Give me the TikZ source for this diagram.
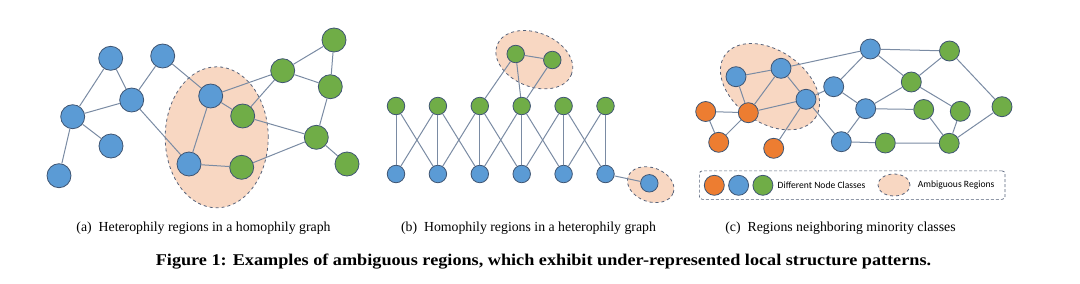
\documentclass[tikz,border=0pt]{standalone}
\usepackage{fontspec}
\setmainfont{Liberation Serif}
\newfontfamily\legendfont{Carlito}
\usepackage{xcolor}
\usetikzlibrary{shapes.geometric,positioning}

\definecolor{nodeblue}{HTML}{5B9BD5}
\definecolor{nodegreen}{HTML}{70AD47}
\definecolor{nodeorange}{HTML}{ED7D31}
\definecolor{nodeline}{HTML}{3F5573}
\definecolor{linkgray}{HTML}{7A8BA3}
\definecolor{regionfill}{HTML}{F8D7C2}
\definecolor{regionline}{HTML}{56627A}

\begin{document}
\begin{tikzpicture}[
    x=1pt, y=-1pt,
    vtx/.style={circle, draw=nodeline, line width=0.8pt, inner sep=0pt},
    bl/.style={vtx, fill=nodeblue},
    gr/.style={vtx, fill=nodegreen},
    og/.style={vtx, fill=nodeorange},
    region/.style={ellipse, draw=regionline, fill=regionfill, dashed, line width=0.8pt, inner sep=0pt},
    link/.style={draw=linkgray, line width=1pt},
    subcap/.style={font=\fontsize{13.8}{16}\selectfont},
    figcap/.style={font=\fontsize{16.4}{19}\selectfont\bfseries, xscale=1.11, transform shape}
]
\useasboundingbox (0,0) rectangle (1080,284);

% (a) heterophily regions in a homophily graph
\node[region, minimum width=103pt, minimum height=141pt] (regA) at (216.7,137.3) {};
\begin{scope}[vtx/.append style={minimum size=24pt}]
\node[bl] (a1) at (110.7,58.3) {};
\node[bl] (a2) at (162.7,56) {};
\node[bl] (a3) at (131.7,100) {};
\node[bl] (a4) at (72.7,116.7) {};
\node[bl] (a5) at (111,146) {};
\node[bl] (a6) at (59,175.7) {};
\node[bl] (a7) at (210.7,96) {};
\node[bl] (a8) at (189,164) {};
\node[gr] (ag1) at (242.7,116) {};
\node[gr] (ag2) at (241.7,167.3) {};
\node[gr] (ag3) at (282.7,70.7) {};
\node[gr] (ag4) at (334,40) {};
\node[gr] (ag5) at (330.3,86.7) {};
\node[gr] (ag6) at (316.3,137.3) {};
\node[gr] (ag7) at (347,164) {};
\end{scope}
\draw[link] (a1) -- (a4);
\draw[link] (a1) -- (a3);
\draw[link] (a2) -- (a3);
\draw[link] (a3) -- (a4);
\draw[link] (a4) -- (a5);
\draw[link] (a4) -- (a6);
\draw[link] (a2) -- (a7);
\draw[link] (a3) -- (a8);
\draw[link] (a7) -- (a8);
\draw[link] (a7) -- (ag1);
\draw[link] (a7) -- (ag3);
\draw[link] (ag1) -- (ag3);
\draw[link] (ag1) -- (ag6);
\draw[link] (ag3) -- (ag4);
\draw[link] (ag3) -- (ag5);
\draw[link] (ag4) -- (ag5);
\draw[link] (ag5) -- (ag6);
\draw[link] (ag6) -- (ag2);
\draw[link] (ag6) -- (ag7);
\draw[link] (a8) -- (ag2);

% (b) homophily regions in a heterophily graph
\node[region, minimum width=80pt, minimum height=54pt, rotate=-22] (regB1) at (534.3,59.7) {};
\node[region, minimum width=48pt, minimum height=34pt, rotate=-20] (regB2) at (650.7,184.7) {};
\begin{scope}[vtx/.append style={minimum size=17.5pt}]
\node[gr] (t1) at (396,106) {};
\node[gr] (t2) at (437.9,106) {};
\node[gr] (t3) at (479.8,106) {};
\node[gr] (t4) at (521.7,106) {};
\node[gr] (t5) at (563.6,106) {};
\node[gr] (t6) at (605.5,106) {};
\node[bl] (b1) at (396,174) {};
\node[bl] (b2) at (437.9,174) {};
\node[bl] (b3) at (479.8,174) {};
\node[bl] (b4) at (521.7,174) {};
\node[bl] (b5) at (563.6,174) {};
\node[bl] (b6) at (605.5,174) {};
\node[gr] (p1) at (515.7,54) {};
\node[gr] (p2) at (552.3,60) {};
\node[bl] (lone) at (649.3,183.3) {};
\end{scope}
\draw[link] (t1) -- (b1);
\draw[link] (t2) -- (b2);
\draw[link] (t3) -- (b3);
\draw[link] (t4) -- (b4);
\draw[link] (t5) -- (b5);
\draw[link] (t6) -- (b6);
\draw[link] (t1) -- (b2);
\draw[link] (t2) -- (b1);
\draw[link] (t2) -- (b3);
\draw[link] (t3) -- (b2);
\draw[link] (t3) -- (b4);
\draw[link] (t4) -- (b3);
\draw[link] (t4) -- (b5);
\draw[link] (t5) -- (b4);
\draw[link] (t5) -- (b6);
\draw[link] (t6) -- (b5);
\draw[link] (b6) -- (lone);
\draw[link] (t3) -- (p1);
\draw[link] (t4) -- (p1);
\draw[link] (t4) -- (p2);
\draw[link] (p1) -- (p2);

% (c) regions neighboring minority classes
\node[region, minimum width=110pt, minimum height=72pt, rotate=-35] (regC) at (770,86.7) {};
\begin{scope}[vtx/.append style={minimum size=20pt}]
\node[og] (o1) at (705.7,111.5) {};
\node[og] (o2) at (718.7,142.3) {};
\node[og] (o3) at (748.3,112.7) {};
\node[og] (o4) at (773.7,148.3) {};
\node[bl] (c1) at (736,76.7) {};
\node[bl] (c2) at (781,68.3) {};
\node[bl] (c3) at (806,99.3) {};
\node[bl] (c4) at (833.7,86.7) {};
\node[bl] (c5) at (870.3,49) {};
\node[bl] (c6) at (865.7,108.7) {};
\node[bl] (c7) at (841.3,141.7) {};
\node[gr] (d1) at (949.5,51) {};
\node[gr] (d2) at (911.3,82) {};
\node[gr] (d3) at (923.7,109.5) {};
\node[gr] (d4) at (960.3,111.3) {};
\node[gr] (d5) at (1002,106.7) {};
\node[gr] (d6) at (885.3,143) {};
\node[gr] (d7) at (949.2,143.3) {};
\end{scope}
\draw[link] (o1) -- (o3);
\draw[link] (o1) -- (o2);
\draw[link] (o2) -- (o3);
\draw[link] (o3) -- (c1);
\draw[link] (o3) -- (c2);
\draw[link] (o3) -- (c3);
\draw[link] (c1) -- (c2);
\draw[link] (c2) -- (c3);
\draw[link] (c3) -- (o4);
\draw[link] (c2) -- (c5);
\draw[link] (c3) -- (c4);
\draw[link] (c3) -- (c7);
\draw[link] (c4) -- (c5);
\draw[link] (c4) -- (c6);
\draw[link] (c5) -- (d1);
\draw[link] (c5) -- (d2);
\draw[link] (c6) -- (d2);
\draw[link] (c6) -- (d3);
\draw[link] (c6) -- (c7);
\draw[link] (c7) -- (d6);
\draw[link] (d6) -- (d7);
\draw[link] (d1) -- (d2);
\draw[link] (d1) -- (d5);
\draw[link] (d2) -- (d4);
\draw[link] (d3) -- (d7);
\draw[link] (d4) -- (d7);
\draw[link] (d5) -- (d7);

% legend
\node[draw=regionline, densely dashed, rounded corners=3pt, line width=0.7pt,
      minimum width=305.7pt, minimum height=28.5pt] (legend) at (852.2,185.1) {};
\begin{scope}[vtx/.append style={minimum size=20pt}]
\node[og] (keyO) at (714.3,185.3) {};
\node[bl, right=3.5pt of keyO] (keyB) {};
\node[gr, right=3.5pt of keyB] (keyG) {};
\end{scope}
\node[anchor=west, font=\legendfont\fontsize{9.6}{11}\selectfont, inner sep=0pt] (keyClasses) at (777.5,185.3) {Different Node Classes};
\node[region, minimum width=32pt, minimum height=22pt] (keyRegion) at (894,185) {};
\node[anchor=west, font=\legendfont\fontsize{9.6}{11}\selectfont, inner sep=0pt] (keyRegions) at (917.7,184.5) {Ambiguous Regions};

% captions
\node[subcap] (capA) at (203.5,228) {(a)\enspace Heterophily regions in a homophily graph};
\node[subcap] (capB) at (528.5,228) {(b)\enspace Homophily regions in a heterophily graph};
\node[subcap] (capC) at (840.5,228) {(c)\enspace Regions neighboring minority classes};
\node[figcap] (caption) at (543.5,262) {Figure 1: Examples of ambiguous regions, which exhibit under-represented local structure patterns.};
\end{tikzpicture}
\end{document}
